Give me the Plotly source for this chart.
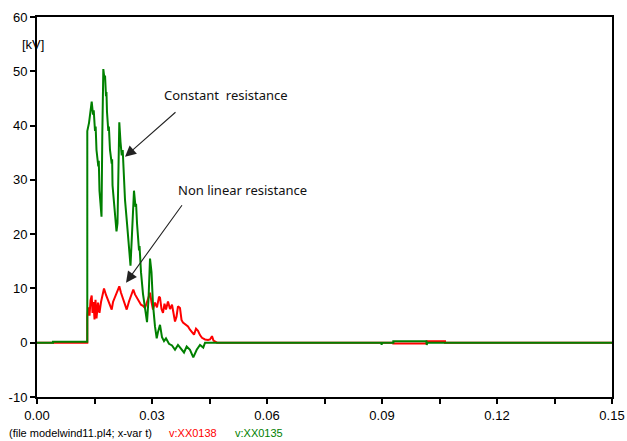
import plotly.graph_objects as go

# Time axis in ms, voltage in kV
t_const = [0, 0.00417, 0.00417, 0.01312, 0.01312, 0.01357, 0.01427, 0.01461, 0.01480, 0.01513,
           0.01530, 0.01552, 0.01599, 0.01612, 0.01630, 0.01662, 0.01683, 0.01703, 0.01730, 0.01761,
           0.01775, 0.01800, 0.01812, 0.01826, 0.01860, 0.01875, 0.01904, 0.01949, 0.01960, 0.01970,
           0.01990, 0.02035, 0.02074, 0.02100, 0.02126, 0.02147, 0.02178, 0.02210, 0.02236, 0.02270,
           0.02296, 0.02348, 0.02400, 0.02439, 0.02478, 0.02504, 0.02530, 0.02570, 0.02585, 0.02609,
           0.02661, 0.02675, 0.02713, 0.02765, 0.02817, 0.02870, 0.02909, 0.02948, 0.02987, 0.03026,
           0.03078, 0.03123, 0.03157, 0.03209, 0.03261, 0.03313, 0.03365, 0.03443, 0.03522, 0.03600,
           0.03678, 0.03775, 0.03835, 0.03905, 0.03991, 0.04077, 0.04166, 0.04252, 0.04338, 0.04383,
           0.08980, 0.08990, 0.09000, 0.09295, 0.09295, 0.10160, 0.10166, 0.10180, 0.15]
v_const = [0, 0, 0.2, 0.2, 39, 40.5, 44.4, 42, 42.8, 39,
           39.8, 35.5, 32.5, 33.5, 28, 24, 23.2, 38, 50.4, 48.5,
           49.2, 45.4, 46.2, 42.5, 39, 39.8, 35.5, 33, 33.8, 29,
           27, 23, 20.5, 22, 35, 40.6, 37, 34.5, 35.5, 29,
           26.3, 22, 18, 14.2, 20, 26, 28, 25, 25.6, 22,
           17, 17.8, 13, 9, 6, 3.8, 8, 15.5, 13, 7,
           3, 0.8, 2, 3.3, 1, 0.3, 0.8, -0.2, -0.5, -1.3,
           -0.4, -1.3, -1.8, -0.7, -1.3, -2.7, -1.3, -0.4, -0.9, 0,
           0, -0.4, 0, 0, 0.25, 0.25, -0.4, 0, 0]

t_nonlin = [0, 0.01312, 0.01312, 0.01336, 0.01370, 0.01396, 0.01427, 0.01448, 0.01474, 0.01500,
            0.01526, 0.01552, 0.01591, 0.01630, 0.01670, 0.01748, 0.01800, 0.01852, 0.01904, 0.01949,
            0.01983, 0.02035, 0.02087, 0.02147, 0.02191, 0.02243, 0.02296, 0.02340, 0.02400, 0.02452,
            0.02512, 0.02556, 0.02635, 0.02713, 0.02765, 0.02817, 0.02870, 0.02909, 0.02948, 0.02987,
            0.03026, 0.03078, 0.03130, 0.03183, 0.03209, 0.03248, 0.03287, 0.03326, 0.03365, 0.03417,
            0.03470, 0.03522, 0.03561, 0.03600, 0.03639, 0.03678, 0.03730, 0.03770, 0.03809, 0.03887,
            0.03939, 0.03991, 0.04043, 0.04096, 0.04148, 0.04200, 0.04252, 0.04304, 0.04383, 0.04461,
            0.04513, 0.04565, 0.04604, 0.04643, 0.04696, 0.09295, 0.09295, 0.10166, 0.10166, 0.10643,
            0.10643, 0.15]
v_nonlin = [0, 0, 4.8, 6.5, 5.0, 7.8, 8.7, 5.5, 7.5, 4.3,
            7.9, 4.5, 7.4, 5.5, 7.5, 10.0, 8.8, 7.8, 7.0, 6.1,
            7.5, 8.5, 9.6, 10.4, 9.2, 8.0, 7.0, 6.1, 7.6, 8.6,
            9.8, 8.9, 7.9, 7.0, 6.8, 6.4, 7.5, 8.3, 9.2, 7.5,
            6.1, 7.4, 6.5, 8.5, 8.3, 6.2, 5.5, 7.2, 6.1, 7.6,
            6.2, 7.0, 5.0, 3.9, 4.8, 6.7, 6.4, 4.2, 3.7, 3.3,
            3.0, 2.4, 1.9, 1.5, 2.6, 2.2, 1.4, 0.9, 0.6, 0.5,
            0.6, 1.2, 0.4, 0.2, 0, 0, -0.15, -0.15, 0.25, 0.25,
            0, 0]

x_tick_vals = [0, 0.015, 0.03, 0.045, 0.06, 0.075, 0.09, 0.105, 0.12, 0.135, 0.15]
x_tick_text = ["0.00", "", "0.03", "", "0.06", "", "0.09", "", "0.12", "", "0.15"]
y_tick_vals = [-10, 0, 10, 20, 30, 40, 50, 60]
y_tick_text = ["-10", "0", "10", "20", "30", "40", "50", "60"]

GREEN = "#008000"
RED = "#ff0000"
TICK_FONT = dict(family="Arial, Liberation Sans", size=13, color="#000000")

fig = go.Figure()
fig.add_trace(go.Scatter(x=t_nonlin, y=v_nonlin, mode="lines",
                         line=dict(color=RED, width=2), name="v:XX0138"))
fig.add_trace(go.Scatter(x=t_const, y=v_const, mode="lines",
                         line=dict(color=GREEN, width=2), name="v:XX0135"))

ann_font = dict(family="Noto Sans", size=13, color="#111111")
arrow_style = dict(text="", showarrow=True, arrowhead=2, arrowsize=2, arrowwidth=1.1,
                   arrowcolor="#222222", axref="x", ayref="y", xref="x", yref="y")
footer_font = dict(family="Arial, Liberation Sans", size=11)
annotations = [
    # curve labels with arrows
    dict(x=0.02296, y=34.25, ax=0.03652, ay=42.7, **arrow_style),
    dict(x=0.02322, y=11.05, ax=0.0381, ay=25.6, **arrow_style),
    dict(x=0.0493, y=45.7, xref="x", yref="y", text="Constant  resistance", showarrow=False,
         font=ann_font),
    dict(x=0.0537, y=28.2, xref="x", yref="y", text="Non linear resistance", showarrow=False,
         font=ann_font),
    # axis units
    dict(x=-0.0296, y=55, xref="paper", yref="y", text="[kV]", showarrow=False, font=TICK_FONT),
    dict(x=0.1395, y=-12.4, xref="x", yref="y", text="[ms]", showarrow=False, font=TICK_FONT),
    # file / variable footer
    dict(x=-0.053, y=-0.095, xref="paper", yref="paper", xanchor="left", yanchor="middle",
         text="(file modelwind11.pl4; x-var t)", showarrow=False, font=dict(footer_font, color="#000000")),
    dict(x=0.226, y=-0.095, xref="paper", yref="paper", xanchor="left", yanchor="middle",
         text="v:XX0138", showarrow=False, font=dict(footer_font, color=RED)),
    dict(x=0.341, y=-0.095, xref="paper", yref="paper", xanchor="left", yanchor="middle",
         text="v:XX0135", showarrow=False, font=dict(footer_font, color=GREEN)),
]

axis_style = dict(showgrid=False, zeroline=False, showline=True, linecolor="black", linewidth=2,
                  mirror=True, ticks="outside", ticklen=5, tickwidth=2, tickcolor="black",
                  tickfont=TICK_FONT, automargin=False)

fig.update_layout(
    width=627, height=441,
    margin=dict(l=37, r=15, t=17, b=44),
    paper_bgcolor="white", plot_bgcolor="white",
    showlegend=False,
    annotations=annotations,
    xaxis=dict(range=[0, 0.15], tickvals=x_tick_vals, ticktext=x_tick_text, **axis_style),
    yaxis=dict(range=[-10, 60], tickvals=y_tick_vals, ticktext=y_tick_text, **axis_style),
)

fig.write_html("out.html")
